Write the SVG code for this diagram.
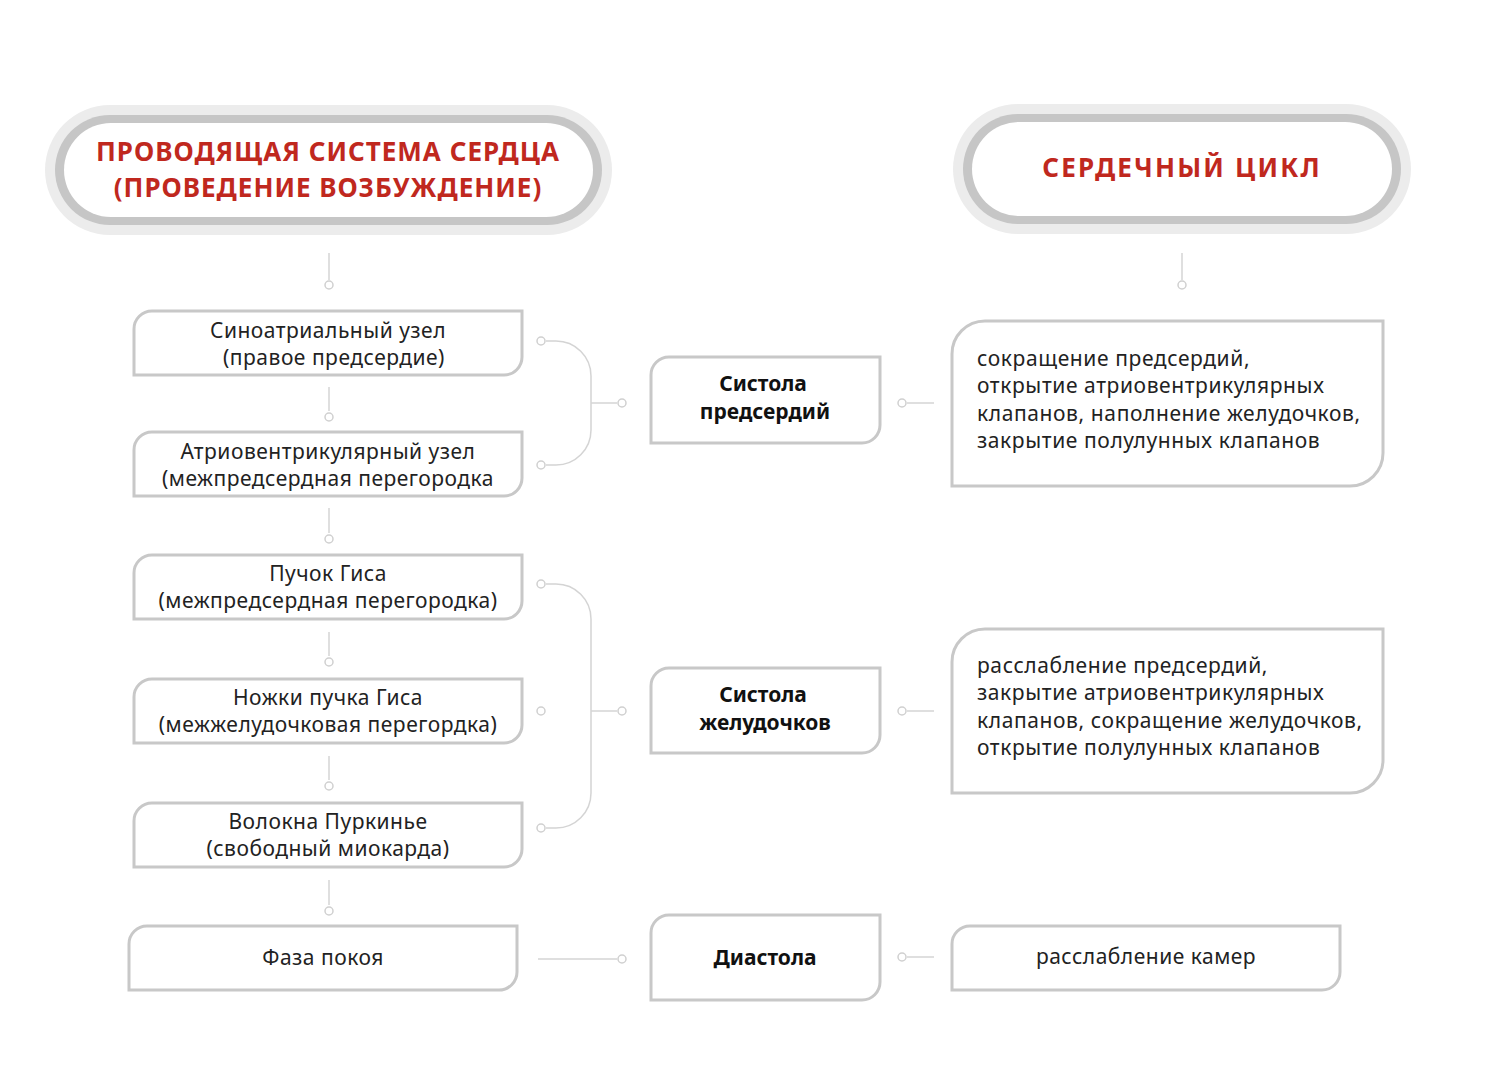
<svg xmlns="http://www.w3.org/2000/svg" width="1500" height="1075" viewBox="0 0 1500 1075">
<style>
.box{fill:#fff;stroke:#c8c8c8;stroke-width:3}
.pill-o{fill:#ececec}
.pill-m{fill:#c6c6c6}
.pill-i{fill:#fff}
.hdr{font-family:"Noto Sans","Open Sans",sans-serif;font-weight:bold;font-size:26px;fill:#c0281e;text-anchor:middle;letter-spacing:1px}
.t{font-family:"Noto Sans","Open Sans",sans-serif;font-size:21px;fill:#222;text-anchor:middle;letter-spacing:0.5px}
.b{font-family:"Noto Sans","Open Sans",sans-serif;font-size:21px;font-weight:bold;fill:#111;text-anchor:middle}
.r{font-family:"Noto Sans","Open Sans",sans-serif;font-size:21px;fill:#222;letter-spacing:0.6px}
.c line,.c path{stroke:#d4d4d4;stroke-width:1.5;fill:none}
.c circle{fill:#fff;stroke:#d0d0d0;stroke-width:1.5}
</style>
<rect width="1500" height="1075" fill="#fff"/>

<g id="hdr-left">
<rect class="pill-o" x="45" y="105" width="567" height="130" rx="65"/>
<rect class="pill-m" x="55" y="115" width="547" height="110" rx="55"/>
<rect class="pill-i" x="64" y="123" width="529" height="94" rx="47"/>
<text class="hdr" x="328" y="161">ПРОВОДЯЩАЯ СИСТЕМА СЕРДЦА</text>
<text class="hdr" x="328" y="197">(ПРОВЕДЕНИЕ ВОЗБУЖДЕНИЕ)</text>
</g>
<g id="hdr-right">
<rect class="pill-o" x="953" y="104" width="458" height="130" rx="65"/>
<rect class="pill-m" x="963" y="114" width="438" height="110" rx="55"/>
<rect class="pill-i" x="972" y="122" width="420" height="94" rx="47"/>
<text class="hdr" x="1182" y="177" style="letter-spacing:2.2px">СЕРДЕЧНЫЙ ЦИКЛ</text>
</g>

<g class="c" id="connectors">
<line x1="329" y1="253" x2="329" y2="280"/><circle cx="329" cy="285" r="4"/>
<line x1="329" y1="387" x2="329" y2="411"/><circle cx="329" cy="417" r="4"/>
<line x1="329" y1="508" x2="329" y2="533"/><circle cx="329" cy="539" r="4"/>
<line x1="329" y1="632" x2="329" y2="656"/><circle cx="329" cy="662" r="4"/>
<line x1="329" y1="756" x2="329" y2="780"/><circle cx="329" cy="786" r="4"/>
<line x1="329" y1="880" x2="329" y2="905"/><circle cx="329" cy="911" r="4"/>
<line x1="1182" y1="253" x2="1182" y2="280"/><circle cx="1182" cy="285" r="4"/>

<path d="M546 341 H556 A35 35 0 0 1 591 376 V430 A35 35 0 0 1 556 465 H546"/>
<circle cx="541" cy="341" r="4"/><circle cx="541" cy="465" r="4"/>
<line x1="591" y1="403" x2="617" y2="403"/><circle cx="622" cy="403" r="4"/>

<path d="M546 584 H556 A35 35 0 0 1 591 619 V793 A35 35 0 0 1 556 828 H546"/>
<circle cx="541" cy="584" r="4"/><circle cx="541" cy="711" r="4"/><circle cx="541" cy="828" r="4"/>
<line x1="591" y1="711" x2="617" y2="711"/><circle cx="622" cy="711" r="4"/>

<line x1="538" y1="959" x2="617" y2="959"/><circle cx="622" cy="959" r="4"/>

<circle cx="902" cy="403" r="4"/><line x1="907" y1="403" x2="934" y2="403"/>
<circle cx="902" cy="711" r="4"/><line x1="907" y1="711" x2="934" y2="711"/>
<circle cx="902" cy="957" r="4"/><line x1="907" y1="957" x2="934" y2="957"/>
</g>

<g id="n1"><path class="box" d="M152 311 H522 V357 A18 18 0 0 1 504 375 H134 V329 A18 18 0 0 1 152 311 Z"/>
<text class="t" x="328" y="338">Синоатриальный узел</text><text class="t" x="334" y="365">(правое предсердие)</text></g>
<g id="n2"><path class="box" d="M152 432 H522 V478 A18 18 0 0 1 504 496 H134 V450 A18 18 0 0 1 152 432 Z"/>
<text class="t" x="328" y="459">Атриовентрикулярный узел</text><text class="t" x="328" y="486">(межпредсердная перегородка</text></g>
<g id="n3"><path class="box" d="M152 555 H522 V601 A18 18 0 0 1 504 619 H134 V573 A18 18 0 0 1 152 555 Z"/>
<text class="t" x="328" y="581">Пучок Гиса</text><text class="t" x="328" y="608">(межпредсердная перегородка)</text></g>
<g id="n4"><path class="box" d="M152 679 H522 V725 A18 18 0 0 1 504 743 H134 V697 A18 18 0 0 1 152 679 Z"/>
<text class="t" x="328" y="705">Ножки пучка Гиса</text><text class="t" x="328" y="732">(межжелудочковая перегордка)</text></g>
<g id="n5"><path class="box" d="M152 803 H522 V849 A18 18 0 0 1 504 867 H134 V821 A18 18 0 0 1 152 803 Z"/>
<text class="t" x="328" y="829">Волокна Пуркинье</text><text class="t" x="328" y="856">(свободный миокарда)</text></g>
<g id="n6"><path class="box" d="M147 926 H517 V972 A18 18 0 0 1 499 990 H129 V944 A18 18 0 0 1 147 926 Z"/>
<text class="t" x="323" y="965">Фаза покоя</text></g>

<g id="m1"><path class="box" d="M669 357 H880 V425 A18 18 0 0 1 862 443 H651 V375 A18 18 0 0 1 669 357 Z"/>
<text class="b" x="763" y="391">Систола</text><text class="b" x="765" y="419">предсердий</text></g>
<g id="m2"><path class="box" d="M669 668 H880 V735 A18 18 0 0 1 862 753 H651 V686 A18 18 0 0 1 669 668 Z"/>
<text class="b" x="763" y="702">Систола</text><text class="b" x="765" y="730">желудочков</text></g>
<g id="m3"><path class="box" d="M669 915 H880 V982 A18 18 0 0 1 862 1000 H651 V933 A18 18 0 0 1 669 915 Z"/>
<text class="b" x="765" y="965">Диастола</text></g>

<g id="r1"><path class="box" d="M985 321 H1383 V453 A33 33 0 0 1 1350 486 H952 V354 A33 33 0 0 1 985 321 Z"/>
<text class="r" x="977" y="366">сокращение предсердий,</text>
<text class="r" x="977" y="393">открытие атриовентрикулярных</text>
<text class="r" x="977" y="421">клапанов, наполнение желудочков,</text>
<text class="r" x="977" y="448">закрытие полулунных клапанов</text></g>
<g id="r2"><path class="box" d="M985 629 H1383 V760 A33 33 0 0 1 1350 793 H952 V662 A33 33 0 0 1 985 629 Z"/>
<text class="r" x="977" y="673">расслабление предсердий,</text>
<text class="r" x="977" y="700">закрытие атриовентрикулярных</text>
<text class="r" x="977" y="728">клапанов, сокращение желудочков,</text>
<text class="r" x="977" y="755">открытие полулунных клапанов</text></g>
<g id="r3"><path class="box" d="M970 926 H1340 V972 A18 18 0 0 1 1322 990 H952 V944 A18 18 0 0 1 970 926 Z"/>
<text class="t" x="1146" y="964">расслабление камер</text></g>
</svg>
